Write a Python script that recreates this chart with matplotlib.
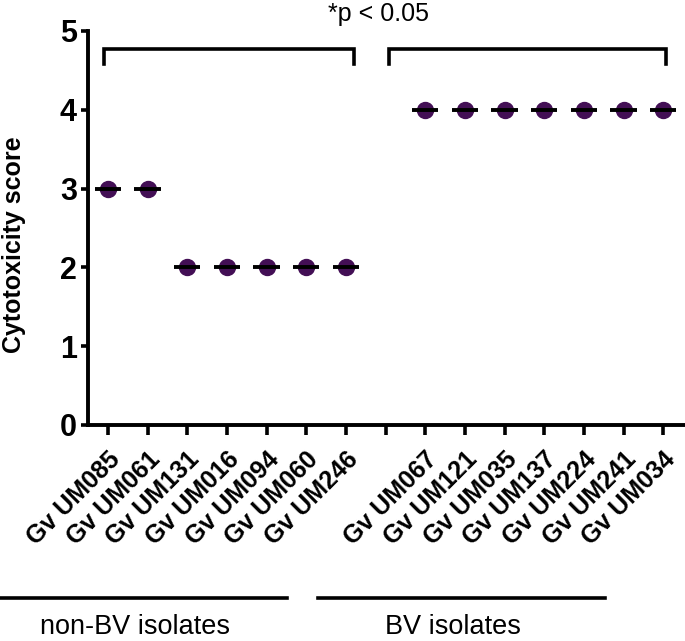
import numpy as np
import matplotlib.pyplot as plt

plt.rcParams.update({
    'font.family': ['Liberation Sans', 'DejaVu Sans'],
    'font.weight': 'bold',
})

# isolates and cytotoxicity scores (blank slot separates the two groups)
non_bv = ['Gv UM085', 'Gv UM061', 'Gv UM131', 'Gv UM016', 'Gv UM094', 'Gv UM060', 'Gv UM246']
non_bv_scores = [3, 3, 2, 2, 2, 2, 2]
bv = ['Gv UM067', 'Gv UM121', 'Gv UM035', 'Gv UM137', 'Gv UM224', 'Gv UM241', 'Gv UM034']
bv_scores = [4, 4, 4, 4, 4, 4, 4]
tick_labels = non_bv + [''] + bv
group_names = ['non-BV isolates', 'BV isolates']
p_text = '*p < 0.05'

DOT = '#430f55'
W, H = 685.0, 641.0

fig = plt.figure(figsize=(6.85, 6.41), dpi=100)
ax = fig.add_axes([88 / W, 1 - 425 / H, 1 - 88 / W, (425 - 31) / H])

x_non = np.arange(len(non_bv))
x_bv = np.arange(len(bv)) + len(non_bv) + 1
for xs, ys in [(x_non, non_bv_scores), (x_bv, bv_scores)]:
    ax.plot(xs, ys, 'o', color=DOT, markersize=11.5, zorder=3, clip_on=False)
    ax.hlines(ys, xs - 0.33, xs + 0.33, color='black', linewidth=2.8, zorder=4)

# significance brackets
lw = 2.6
for x0, x1 in [(-0.1, 6.2), (7.1, 14.08)]:
    ax.plot([x0, x0, x1, x1], [4.58, 4.77, 4.77, 4.58], color='black', lw=lw,
            solid_joinstyle='miter', clip_on=False)
fig.text(378 / W, 1 - 14 / H, p_text, ha='center', va='center', fontsize=18, fontweight='normal')

ax.set_xlim(-0.5, 14.55)
ax.set_ylim(0, 5)
ax.set_yticks(range(6))
ax.set_xticks(np.arange(len(tick_labels)))
ax.set_xticklabels(tick_labels, rotation=45, ha='right', rotation_mode='anchor',
                   fontsize=18, fontweight='bold')
ax.tick_params(axis='y', labelsize=22, width=2.6, length=5, direction='out', pad=3)
ax.tick_params(axis='x', width=2.6, length=7, direction='out', pad=9)
for lab in ax.get_yticklabels():
    lab.set_fontweight('bold')
fig.text(14 / W, 1 - 245 / H, 'Cytotoxicity score', rotation=90, ha='center', va='center',
         fontsize=18, fontweight='bold')

for side in ['top', 'right']:
    ax.spines[side].set_visible(False)
for side in ['left', 'bottom']:
    ax.spines[side].set_linewidth(2.8)

# group lines and labels under the axis
for (x0, x1), name, xc in zip([(0, 287), (318, 605)], group_names, [135, 453]):
    fig.add_artist(plt.Line2D([x0 / W, x1 / W], [1 - 598 / H, 1 - 598 / H],
                              color='black', lw=2.6))
    fig.text(xc / W, 1 - 627 / H, name, ha='center', va='center',
             fontsize=19.5, fontweight='normal')

fig.savefig('out.png', dpi=100)
